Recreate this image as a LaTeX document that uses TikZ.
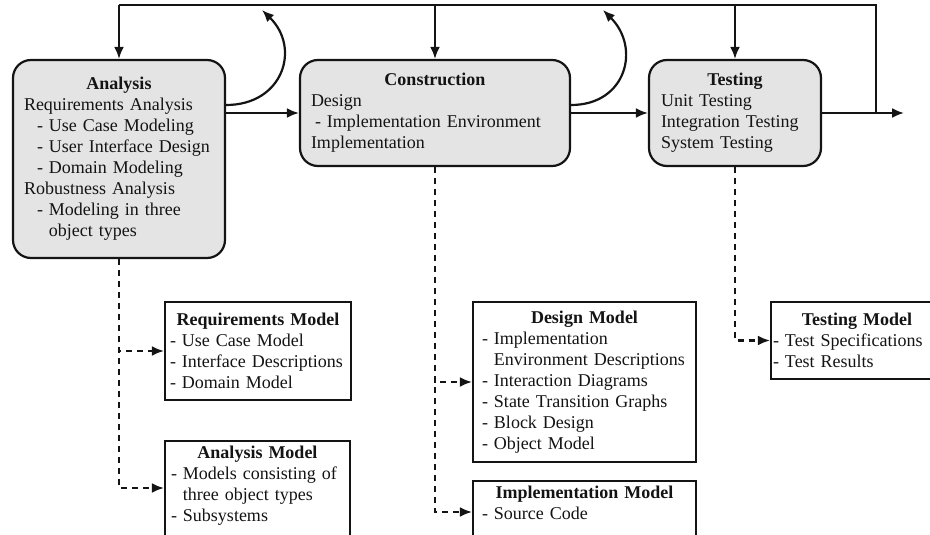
\documentclass[tikz,border=0pt]{standalone}
\usepackage{fontspec}
\setmainfont{Liberation Serif}
\usetikzlibrary{arrows.meta}
\definecolor{ink}{HTML}{141414}
\definecolor{phasefill}{HTML}{E4E4E4}
\begin{document}
\begin{tikzpicture}[x=1pt,y=-1pt,
  wire/.style={draw=ink, line width=2.2pt},
  flow/.style={wire, -{Latex[length=12pt,width=10pt]}},
  dflow/.style={flow, dash pattern=on 6pt off 5pt},
  boxtext/.style={align=left, font=\fontsize{18}{21}\selectfont, text=ink},
  phase/.style={boxtext, draw=ink, line width=2.2pt, fill=phasefill,
    rounded corners=18pt, inner ysep=5pt},
  model/.style={boxtext, draw=ink, line width=2.2pt, fill=white,
    inner ysep=5pt},
]
\useasboundingbox (0,0) rectangle (930,535);
\clip (0,0) rectangle (930,535);

% phase boxes
\node[phase, minimum width=212pt, minimum height=198pt, text width=190pt,
  inner xsep=11pt] (A) at (119,159)
  {\centering\textbf{Analysis}\par\raggedright
   Requirements Analysis\\
   \hspace*{13pt}- Use Case Modeling\\
   \hspace*{13pt}- User Interface Design\\
   \hspace*{13pt}- Domain Modeling\\
   Robustness Analysis\\
   \hspace*{13pt}- Modeling in three\\
   \hspace*{13pt}\phantom{- }object types};

\node[phase, minimum width=270pt, minimum height=106pt, text width=248pt,
  inner xsep=11pt] (C) at (435,113)
  {\centering\textbf{Construction}\par\raggedright
   Design\\
   \hspace*{4pt}- Implementation Environment\\
   Implementation};

\node[phase, minimum width=172pt, minimum height=106pt, text width=148pt,
  inner xsep=12pt] (T) at (735,113)
  {\centering\textbf{Testing}\par\raggedright
   Unit Testing\\
   Integration Testing\\
   System Testing};

% model boxes
\node[model, minimum width=186pt, minimum height=98pt, text width=176pt,
  inner xsep=5pt] (RM) at (258,351)
  {\centering\textbf{Requirements Model}\par\raggedright
   - Use Case Model\\
   - Interface Descriptions\\
   - Domain Model};

\node[model, anchor=north, minimum width=185pt, text width=173pt,
  inner xsep=6pt] (AM) at (257.5,440)
  {\centering\textbf{Analysis Model}\par\raggedright
   - Models consisting of\\
   \phantom{- }three object types\\
   - Subsystems\\
   \mbox{}};

\node[model, minimum width=223pt, minimum height=160pt, text width=205pt,
  inner xsep=9pt] (DM) at (584.5,382)
  {\centering\textbf{Design Model}\par\raggedright
   - Implementation\\
   \phantom{- }Environment Descriptions\\
   - Interaction Diagrams\\
   - State Transition Graphs\\
   - Block Design\\
   - Object Model};

\node[model, anchor=north, minimum width=223pt, text width=205pt,
  inner xsep=9pt] (IM) at (584.5,480)
  {\centering\textbf{Implementation Model}\par\raggedright
   - Source Code\\
   \mbox{}};

\node[model, minimum width=172pt, minimum height=77pt, text width=168pt,
  inner xsep=2pt] (TM) at (857,340.5)
  {\centering\textbf{Testing Model}\par\raggedright
   - Test Specifications\\
   - Test Results};

% forward flow between phases
\coordinate (rt) at (876,5);
\coordinate (out) at (904,113);
\draw[flow] (A.east |- C.west) -- (C.west);
\draw[flow] (C.east) -- (T.west);
\draw[flow] (T.east) -- (out);

% feedback loop over the top
\draw[wire] (T.east -| rt) |- (A.north |- rt);
\draw[flow] (A.north |- rt) -- (A.north);
\draw[flow] (C.north |- rt) -- (C.north);
\draw[flow] (T.north |- rt) -- (T.north);

% iteration arcs
\coordinate (loopA) at (262,10);
\coordinate (loopC) at (603,10);
\draw[flow] (A.east |- 0,105) .. controls +(57,0) and +(39,38) .. (loopA);
\draw[flow] (C.east |- 0,105) .. controls +(55,0) and +(38,38) .. (loopC);

% produced models
\draw[dflow] (A.south) |- (RM.west);
\draw[dflow] (A.south) |- (AM.north west |- 0,488);
\draw[dflow] (C.south) |- (DM.west);
\draw[dflow] (C.south) |- (IM.north west |- 0,512);
\draw[dflow] (T.south) |- (TM.west);
\end{tikzpicture}
\end{document}
